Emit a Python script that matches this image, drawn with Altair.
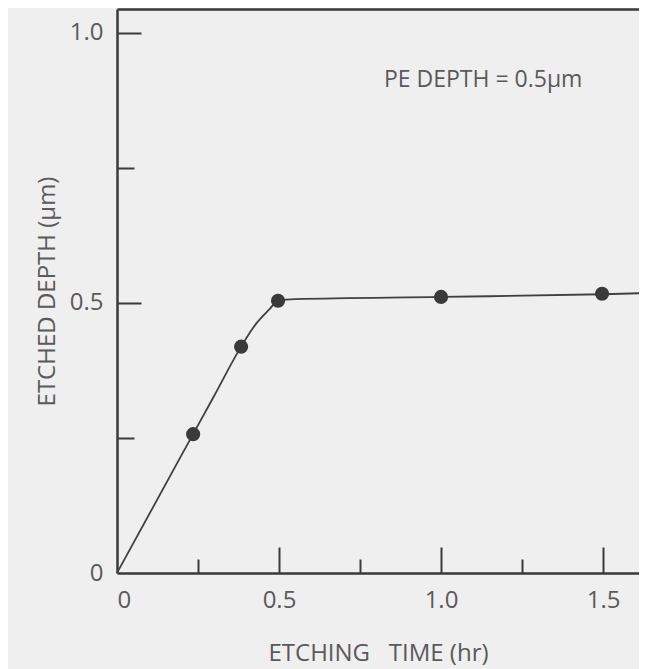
import altair as alt
import pandas as pd

# measured data points
pt_time = [0.235, 0.383, 0.497, 1.0, 1.497]
pt_depth = [0.257, 0.419, 0.504, 0.511, 0.517]

# drawn curve
curve_time = [0.0, 0.2, 0.3, 0.383, 0.43, 0.47, 0.497, 0.55, 1.0, 1.5, 1.62]
curve_depth = [0.0, 0.219, 0.328, 0.419, 0.462, 0.488, 0.504, 0.507, 0.511, 0.516, 0.518]

x_major = [0.5, 1.0, 1.5]
x_minor = [0.25, 0.75, 1.25]
x_labels = [0, 0.5, 1.0, 1.5]
y_major = [0.5, 1.0]
y_minor = [0.25, 0.75]
y_labels = [0, 0.5, 1.0]

note_text = ["PE DEPTH = 0.5\u00b5m"]
note_time = [1.13]
note_depth = [0.913]

pts = pd.DataFrame({"t": pt_time, "d": pt_depth})
curve = pd.DataFrame({"t": curve_time, "d": curve_depth})
note = pd.DataFrame({"t": note_time, "d": note_depth, "txt": note_text})

FONT = "Open Sans"
TXT = "#5a5a5a"
INK = "#3a3a3a"
BG = "#efefef"

xs = alt.Scale(domain=[0, 1.611], nice=False, zero=False)
ys = alt.Scale(domain=[0, 1.044], nice=False, zero=False)

lab_expr = "datum.value == 0 ? '0' : format(datum.value, '.1f')"

x_main = alt.Axis(orient="bottom", values=x_labels, labelExpr=lab_expr, ticks=False,
                  grid=False, domain=True, domainColor=INK, domainWidth=2.5,
                  labelFont=FONT, labelFontSize=24, labelColor=TXT, labelPadding=15,
                  title="ETCHING\u00a0\u00a0 TIME (hr)", titleFont=FONT, titleFontSize=24,
                  titleFontWeight="normal", titleColor=TXT, titlePadding=29)
y_main = alt.Axis(orient="left", values=y_labels, labelExpr=lab_expr, ticks=False,
                  grid=False, domain=True, domainColor=INK, domainWidth=2.5,
                  labelFont=FONT, labelFontSize=24, labelColor=TXT, labelPadding=14,
                  title="ETCHED DEPTH (\u00b5m)", titleFont=FONT, titleFontSize=24,
                  titleFontWeight="normal", titleColor=TXT, titlePadding=10)
x_top = alt.Axis(orient="top", ticks=False, labels=False, grid=False, domain=True,
                 domainColor=INK, domainWidth=2.5, title=None)
x_maj = alt.Axis(orient="bottom", values=x_major, offset=-26, tickSize=26, tickWidth=2,
                 tickColor=INK, labels=False, domain=False, grid=False, title=None)
x_min = alt.Axis(orient="bottom", values=x_minor, offset=-14, tickSize=14, tickWidth=2,
                 tickColor=INK, labels=False, domain=False, grid=False, title=None)
y_maj = alt.Axis(orient="left", values=y_major, offset=-24, tickSize=24, tickWidth=2,
                 tickColor=INK, labels=False, domain=False, grid=False, title=None)
y_min = alt.Axis(orient="left", values=y_minor, offset=-17, tickSize=17, tickWidth=2,
                 tickColor=INK, labels=False, domain=False, grid=False, title=None)

line = alt.Chart(curve).mark_line(color="#404040", strokeWidth=1.8, interpolate="monotone").encode(
    x=alt.X("t:Q", scale=xs, axis=x_main),
    y=alt.Y("d:Q", scale=ys, axis=y_main),
)
dots = alt.Chart(pts).mark_circle(color=INK, opacity=1, size=200).encode(
    x=alt.X("t:Q", scale=xs, axis=x_top),
    y=alt.Y("d:Q", scale=ys, axis=y_maj),
)
ghost1 = alt.Chart(pts).mark_circle(opacity=0).encode(
    x=alt.X("t:Q", scale=xs, axis=x_maj),
    y=alt.Y("d:Q", scale=ys, axis=y_min),
)
ghost2 = alt.Chart(pts).mark_circle(opacity=0).encode(
    x=alt.X("t:Q", scale=xs, axis=x_min),
    y=alt.Y("d:Q", scale=ys, axis=None),
)
label = alt.Chart(note).mark_text(font=FONT, fontSize=23, color=TXT, align="center",
                                  baseline="middle").encode(
    x=alt.X("t:Q", scale=xs, axis=None),
    y=alt.Y("d:Q", scale=ys, axis=None),
    text="txt:N",
)

chart = alt.layer(line, dots, ghost1, ghost2, label).resolve_axis(
    x="independent", y="independent"
).properties(
    width=522, height=564,
    autosize=alt.AutoSizeParams(type="none"),
    padding={"left": 109, "top": 1, "right": 0, "bottom": 96},
    background=BG,
).configure_view(stroke=None, fill=BG)

chart.save("out.html", embed_options={"renderer": "svg", "actions": False})
